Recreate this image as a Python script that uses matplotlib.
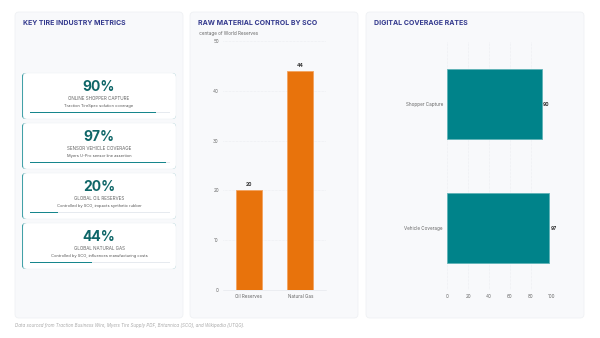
import matplotlib.pyplot as plt
from matplotlib.patches import FancyBboxPatch, Rectangle

plt.rcParams["font.family"] = ["Inter", "DejaVu Sans"]

# card metrics
metric_values = [90, 97, 20, 44]
metric_labels = ["ONLINE SHOPPER CAPTURE", "SENSOR VEHICLE COVERAGE",
                 "GLOBAL OIL RESERVES", "GLOBAL NATURAL GAS"]
metric_notes = ["Traction TireSpec solution coverage",
                "Myers U-Pro sensor line assertion",
                "Controlled by SCO, impacts synthetic rubber",
                "Controlled by SCO, influences manufacturing costs"]

# raw material bar chart
material_names = ["Oil Reserves", "Natural Gas"]
material_share = [20, 44]
material_ticks = [0, 10, 20, 30, 40, 50]

# digital coverage bar chart
coverage_names = ["Shopper Capture", "Vehicle Coverage"]
coverage_rate = [90, 97]
coverage_ticks = [0, 20, 40, 60, 80, 100]

TITLE_C = "#343a8e"
TEAL = "#00838a"
DARK_TEAL = "#0f6668"
ORANGE = "#e8730c"
W, H = 600, 338

fig = plt.figure(figsize=(6, 3.38), dpi=100)
fig.patch.set_facecolor("white")

# background axes in pixel coordinates
bg = fig.add_axes([0, 0, 1, 1])
bg.set_xlim(0, W)
bg.set_ylim(H, 0)
bg.axis("off")


def rbox(x0, y0, x1, y1, fc, ec="none", r=4, lw=0.6, z=1):
    p = FancyBboxPatch((x0 + r, y0 + r), x1 - x0 - 2 * r, y1 - y0 - 2 * r,
                       boxstyle=f"round,pad={r}", fc=fc, ec=ec, lw=lw, zorder=z)
    bg.add_patch(p)


panels = [(15, 12, 183, 318), (190, 12, 358, 318), (366, 12, 584, 318)]
titles = ["KEY TIRE INDUSTRY METRICS", "RAW MATERIAL CONTROL BY SCO", "DIGITAL COVERAGE RATES"]
for (x0, y0, x1, y1), t in zip(panels, titles):
    rbox(x0, y0, x1, y1, "#f8f9fb", ec="#eff1f4")
    bg.text(x0 + 8, 23, t, fontsize=5, fontweight="bold", color=TITLE_C,
            va="center", ha="left", zorder=5)

# metric cards
for i, (v, lab, note) in enumerate(zip(metric_values, metric_labels, metric_notes)):
    top = 73 + 50 * i
    bot = top + 46
    rbox(22, top, 176, bot, TEAL, r=4, z=2)
    rbox(23, top, 176, bot, "white", ec="#f0f2f5", lw=0.4, r=4, z=3)
    cx = 99
    bg.text(cx, top + 14, f"{v}%", fontsize=10, fontweight="bold", color=DARK_TEAL,
            ha="center", va="center", zorder=5)
    bg.text(cx, top + 26, lab, fontsize=3.3, color="#666", ha="center", va="center", zorder=5)
    bg.text(cx, top + 32.5, note, fontsize=2.9, color="#555", ha="center", va="center", zorder=5)
    bg.add_patch(Rectangle((30, top + 38.5), 140, 1.6, fc="#e6eaef", ec="none", zorder=4))
    bg.add_patch(Rectangle((30, top + 38.5), 140 * v / 100, 1.6, fc="#16868c", ec="none", zorder=5))

# footer
bg.text(15, 326, "Data sourced from Traction Business Wire, Myers Tire Supply PDF, "
        "Britannica (SCO), and Wikipedia (UTQG).", fontsize=3.2, style="italic",
        color="#aaa", ha="left", va="center")

# clipped axis title above the vertical bar chart
clip_ax = fig.add_axes([199 / W, 0, (358 - 199) / W, 1])
clip_ax.set_xlim(199, 358)
clip_ax.set_ylim(H, 0)
clip_ax.axis("off")
clip_ax.patch.set_alpha(0)
clip_ax.text(258, 33.5, "Percentage of World Reserves", fontsize=3.3, color="#666",
             ha="right", va="center", clip_on=True)


def px_rect(x0, y0, x1, y1):
    return [x0 / W, (H - y1) / H, (x1 - x0) / W, (y1 - y0) / H]


# vertical bars
ax1 = fig.add_axes(px_rect(223, 41, 326, 290))
ax1.patch.set_alpha(0)
xs = range(len(material_names))
bars = ax1.bar(xs, material_share, width=0.5, color=ORANGE, edgecolor="#f3a25e",
               linewidth=0.6, zorder=3)
for b, v in zip(bars, material_share):
    ax1.text(b.get_x() + b.get_width() / 2, v + 0.6, f"{v}", ha="center", va="bottom",
             fontsize=3.6, fontweight="bold", color="#333")
ax1.set_xlim(-0.5, 1.5)
ax1.set_ylim(0, 50)
ax1.set_yticks(material_ticks)
ax1.set_xticks(list(xs))
ax1.set_xticklabels(material_names)
ax1.tick_params(axis="both", length=0, labelsize=3.3, labelcolor="#666", pad=3)
ax1.grid(axis="y", linestyle=(0, (1, 1.5)), linewidth=0.4, color="#e2e5ea", zorder=0)
for s in ax1.spines.values():
    s.set_visible(False)
ax1.spines["bottom"].set_visible(True)
ax1.spines["bottom"].set_color("#e2e5ea")
ax1.spines["bottom"].set_linewidth(0.4)

# horizontal bars
ax2 = fig.add_axes(px_rect(447, 42, 552, 290))
ax2.patch.set_alpha(0)
ys = range(len(coverage_names))
hb = ax2.barh(ys, coverage_rate, height=0.56, color=TEAL, edgecolor="#5fb3b7",
              linewidth=0.6, zorder=3)
for b, v in zip(hb, coverage_rate):
    ax2.text(v + 1.5, b.get_y() + b.get_height() / 2, f"{v}", ha="left", va="center",
             fontsize=3.6, fontweight="bold", color="#333")
ax2.set_ylim(1.5, -0.5)
ax2.set_xlim(0, 100)
ax2.set_xticks(coverage_ticks)
ax2.set_yticks(list(ys))
ax2.set_yticklabels(coverage_names)
ax2.tick_params(axis="both", length=0, labelsize=3.3, labelcolor="#666", pad=3)
ax2.grid(axis="x", linestyle=(0, (1, 1.5)), linewidth=0.4, color="#e2e5ea", zorder=0)
for s in ax2.spines.values():
    s.set_visible(False)

fig.savefig("out.png", dpi=100, facecolor="white")
